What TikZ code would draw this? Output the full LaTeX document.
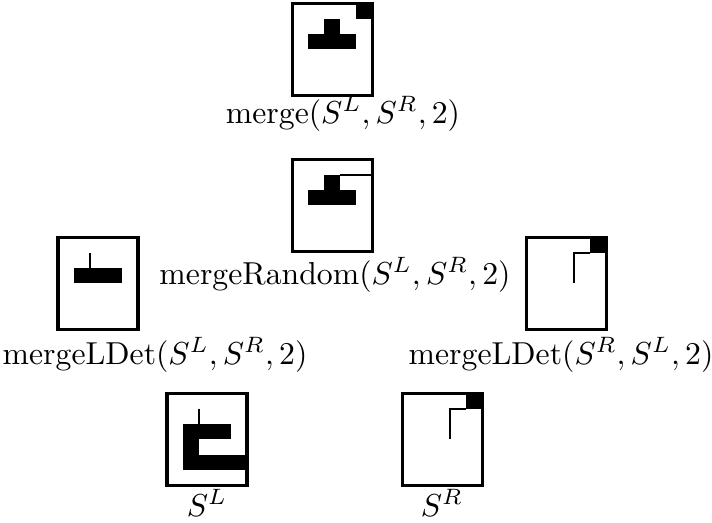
\documentclass[tikz,border=0pt]{standalone}
\begin{document}
\begin{tikzpicture}[x=0.315pt,y=-0.315pt,
  frame/.style={draw,line width=0.95pt},
  cell/.style={fill=black},
  thin/.style={draw,line width=0.63pt},
  grid/.style={x=5.04pt,y=-4.88pt},
  lab/.style={anchor=base,inner sep=0pt}]
\useasboundingbox (0,0) rectangle (712,522);
% merge
\begin{scope}[shift={(292,3)},grid]
  \draw[frame] (0,0) rectangle (5,6);
  \fill[cell] (4,0) rectangle (5,1);
  \fill[cell] (2,1) rectangle (3,2);
  \fill[cell] (1,2) rectangle (4,3);
\end{scope}
\node[lab] (lmerge) at (343,123) {merge$(S^L,S^R,2)$};
% mergeRandom
\begin{scope}[shift={(292,159)},grid]
  \draw[frame] (0,0) rectangle (5,6);
  \fill[cell] (2,1) rectangle (3,2);
  \fill[cell] (1,2) rectangle (4,3);
  \draw[thin] (3,1) -- (5,1);
\end{scope}
\node[lab] (lrand) at (335,284) {mergeRandom$(S^L,S^R,2)$};
% mergeLDet left
\begin{scope}[shift={(58,237)},grid]
  \draw[frame] (0,0) rectangle (5,6);
  \fill[cell] (1,2) rectangle (4,3);
  \draw[thin] (2,1) -- (2,2);
\end{scope}
\node[lab] (lldet) at (155,364) {mergeLDet$(S^L,S^R,2)$};
% mergeLDet right
\begin{scope}[shift={(526,237)},grid]
  \draw[frame] (0,0) rectangle (5,6);
  \fill[cell] (4,0) rectangle (5,1);
  \draw[thin] (4,1) -- (3,1) -- (3,3);
\end{scope}
\node[lab] (lrdet) at (561,364) {mergeLDet$(S^R,S^L,2)$};
% S^L
\begin{scope}[shift={(167,393)},grid]
  \draw[frame] (0,0) rectangle (5,6);
  \fill[cell] (1,2) rectangle (4,3);
  \fill[cell] (1,3) rectangle (2,4);
  \fill[cell] (1,4) rectangle (5,5);
  \draw[thin] (2,1) -- (2,2);
\end{scope}
\node[lab] (lsl) at (207,516) {$S^L$};
% S^R
\begin{scope}[shift={(402,393)},grid]
  \draw[frame] (0,0) rectangle (5,6);
  \fill[cell] (4,0) rectangle (5,1);
  \draw[thin] (4,1) -- (3,1) -- (3,3);
\end{scope}
\node[lab] (lsr) at (442,516) {$S^R$};
\end{tikzpicture}
\end{document}
